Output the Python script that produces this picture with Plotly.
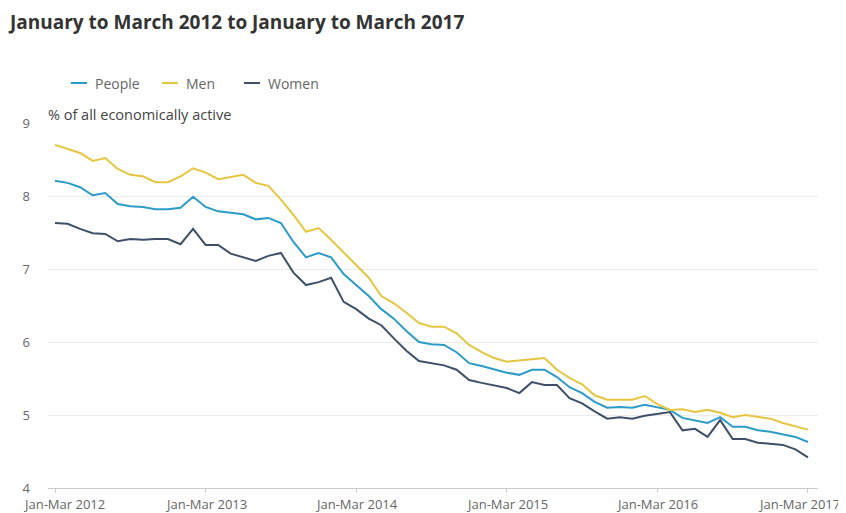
import plotly.graph_objects as go

# ---- data ----
months = ["Jan", "Feb", "Mar", "Apr", "May", "Jun", "Jul", "Aug", "Sep", "Oct", "Nov", "Dec"]
start_year = 2012
n_periods = 61
periods = []
for k in range(n_periods):
    m = k % 12
    y = start_year + k // 12
    m2 = (m + 2) % 12
    y2 = y + (m + 2) // 12
    periods.append(f"{months[m]}-{months[m2]} {y2}" if y2 == y else f"{months[m]} {y}-{months[m2]} {y2}")

people = [8.21, 8.18, 8.12, 8.01, 8.04, 7.89, 7.86, 7.85, 7.82, 7.82, 7.84, 7.99,
          7.85, 7.79, 7.77, 7.75, 7.68, 7.70, 7.63, 7.37, 7.16, 7.22, 7.16, 6.93,
          6.78, 6.63, 6.45, 6.32, 6.15, 6.00, 5.97, 5.96, 5.86, 5.71, 5.67, 5.62,
          5.58, 5.55, 5.62, 5.62, 5.52, 5.38, 5.30, 5.18, 5.10, 5.11, 5.10, 5.14,
          5.10, 5.07, 4.96, 4.93, 4.89, 4.97, 4.84, 4.84, 4.79, 4.77, 4.74, 4.70,
          4.63]
men = [8.70, 8.64, 8.59, 8.48, 8.52, 8.37, 8.29, 8.27, 8.19, 8.19, 8.27, 8.38,
       8.32, 8.23, 8.26, 8.29, 8.18, 8.14, 7.95, 7.74, 7.51, 7.56, 7.40, 7.23,
       7.05, 6.88, 6.63, 6.53, 6.40, 6.26, 6.21, 6.21, 6.12, 5.96, 5.86, 5.78,
       5.73, 5.75, 5.77, 5.78, 5.62, 5.51, 5.42, 5.27, 5.21, 5.21, 5.21, 5.26,
       5.15, 5.07, 5.08, 5.04, 5.07, 5.03, 4.97, 5.00, 4.97, 4.95, 4.89, 4.84,
       4.80]
women = [7.63, 7.62, 7.55, 7.49, 7.48, 7.38, 7.41, 7.40, 7.41, 7.41, 7.34, 7.55,
         7.33, 7.33, 7.21, 7.16, 7.11, 7.18, 7.22, 6.95, 6.78, 6.82, 6.88, 6.55,
         6.45, 6.32, 6.23, 6.05, 5.88, 5.74, 5.71, 5.68, 5.62, 5.48, 5.44, 5.40,
         5.37, 5.30, 5.45, 5.41, 5.41, 5.23, 5.16, 5.05, 4.95, 4.97, 4.95, 4.99,
         5.01, 5.04, 4.79, 4.81, 4.70, 4.93, 4.67, 4.67, 4.62, 4.60, 4.59, 4.53,
         4.42]

series_names = ["People", "Men", "Women"]
series_values = [people, men, women]
series_colors = ["#2b9bc8", "#e6c540", "#3d5068"]

tick_labels = ["Jan-Mar 2012", "Jan-Mar 2013", "Jan-Mar 2014",
               "Jan-Mar 2015", "Jan-Mar 2016", "Jan-Mar 2017"]
y_ticks = [4, 5, 6, 7, 8, 9]

title_text = "January to March 2012 to January to March 2017"
y_title = "% of all economically active"

# ---- layout geometry (page body has an 8px margin) ----
OFF = 8
W, H = 846 - OFF, 513 - OFF
L, T = 48 - OFF, 123 - OFF
R = W - (818 - OFF)
B = H - (488 - OFF)
pw, ph = W - L - R, H - T - B

def px_x(px):  # px in page coordinates
    return (px - OFF - L) / pw

def px_y(py):
    return (H - B - (py - OFF)) / ph

FONT = "Open Sans, sans-serif"
TICK_FONT = dict(family=FONT, size=13, color="#666666")

fig = go.Figure()
for name, vals, col in zip(series_names, series_values, series_colors):
    fig.add_trace(go.Scatter(
        x=periods, y=vals, mode="lines", name=name,
        line=dict(color=col, width=2),
        showlegend=False,
        hovertemplate="%{x}: %{y}<extra>" + name + "</extra>",
    ))

# manual legend
legend_pos = [71, 162, 244]
annotations = []
shapes = []
for name, col, lx in zip(series_names, series_colors, legend_pos):
    shapes.append(dict(type="line", xref="paper", yref="paper",
                       x0=px_x(lx), x1=px_x(lx + 16), y0=px_y(83), y1=px_y(83),
                       line=dict(color=col, width=2)))
    annotations.append(dict(text=name, xref="paper", yref="paper",
                            x=px_x(lx + 22), y=px_y(83), xanchor="left", yanchor="middle",
                            showarrow=False, font=dict(family=FONT, size=14, color="#666666")))

annotations.append(dict(text=y_title, xref="paper", yref="paper",
                        x=px_x(46), y=px_y(114), xanchor="left", yanchor="middle",
                        showarrow=False, font=dict(family=FONT, size=14.5, color="#444444")))
annotations.append(dict(text="<b>" + title_text + "</b>", xref="paper", yref="paper",
                        x=px_x(6), y=px_y(22), xanchor="left", yanchor="middle",
                        showarrow=False, font=dict(family=FONT, size=19, color="#333333")))

# x tick labels: edge labels are nudged inward so they stay within the chart
tick_idx = list(range(0, n_periods, 12))
edge_shift = {0: 9, len(tick_idx) - 1: -9}
for j, (i, lab) in enumerate(zip(tick_idx, tick_labels)):
    annotations.append(dict(text=lab, xref="x", yref="paper", x=periods[i], y=0,
                            xanchor="center", yanchor="top", yshift=-5,
                            xshift=edge_shift.get(j, 0),
                            showarrow=False, font=TICK_FONT))

fig.update_layout(
    width=W, height=H,
    margin=dict(l=L, r=R, t=T, b=B, autoexpand=False),
    paper_bgcolor="white", plot_bgcolor="white",
    font=dict(family=FONT, size=12, color="#666666"),
    annotations=annotations, shapes=shapes,
    showlegend=False,
)
fig.update_xaxes(
    type="category",
    range=[-0.56, 60.8],
    tickmode="array",
    tickvals=[periods[i] for i in tick_idx],
    showticklabels=False,
    showgrid=False,
    showline=True, linecolor="#cccccc", linewidth=1,
    ticks="outside", ticklen=4, tickcolor="#cccccc",
    automargin=False,
    zeroline=False,
)
fig.update_yaxes(
    range=[4, 9],
    tickvals=y_ticks,
    showgrid=True, gridcolor="#ebebeb", gridwidth=1,
    zeroline=False, showline=False,
    ticks="", ticklabelstandoff=17,
    tickfont=TICK_FONT,
    automargin=False,
)

fig.write_html("out.html")
